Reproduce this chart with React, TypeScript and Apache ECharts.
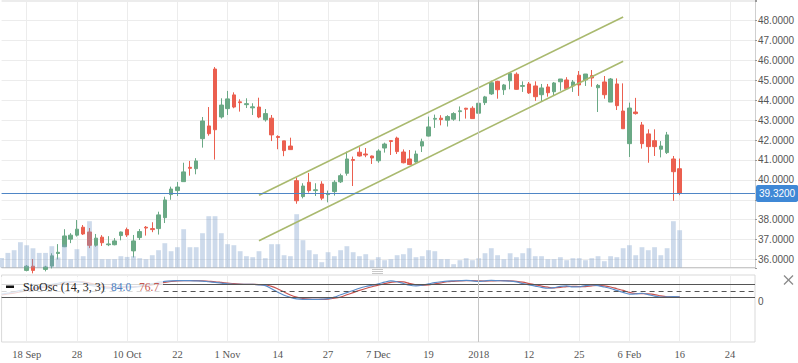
import React, { useEffect, useRef } from "react";
import * as echarts from "echarts";

// ---- data ----
const tickLabels = ["18 Sep", "28", "10 Oct", "22", "1 Nov", "14", "27", "7 Dec", "19", "2018", "12", "25", "6 Feb", "16", "24"];
const FIRST_TICK = 4;
const TICK_STEP = 8;
const SLOT_COUNT = 121;
const YEAR_SLOT = "76";
const lastPrice = 39.32;
const stochLegend = { k: "84.0", d: "76.7" };

const open = [35.30,35.20,35.35,35.25,35.45,35.66,35.45,35.50,35.67,36.30,
36.64,37.02,37.22,37.62,37.38,36.71,37.12,36.74,36.74,37.20,
37.50,36.43,37.10,37.62,37.55,37.55,38.10,39.26,39.46,39.91,
40.63,40.56,42.07,42.71,45.57,43.16,43.58,44.27,43.92,43.78,
43.62,43.66,43.02,43.10,42.18,41.96,41.70,39.96,39.16,39.88,
39.46,39.79,39.26,39.41,39.90,40.33,41.02,41.39,41.30,41.20,
40.96,41.60,41.97,42.10,41.40,41.05,40.90,41.70,42.20,43.05,
43.10,43.00,43.05,43.43,43.60,43.60,43.35,43.88,44.32,44.95,
44.53,44.98,45.31,44.70,44.82,44.72,44.28,44.67,44.43,44.93,
45.02,44.72,45.26,45.02,45.24,44.63,44.92,43.91,44.82,43.46,
41.82,43.41,42.76,42.31,41.97,41.54,41.37,41.05,40.56];

const close = [35.20,35.35,35.25,35.45,35.66,35.45,35.50,35.62,36.18,36.36,
37.18,37.22,37.52,37.28,36.71,37.07,36.84,36.78,36.93,37.38,
37.23,36.93,37.40,37.58,37.50,38.24,38.99,39.54,39.64,40.40,
40.58,40.95,42.96,42.32,42.52,43.76,44.07,43.66,43.88,43.83,
43.67,43.16,43.33,42.26,42.13,41.47,41.52,38.95,39.69,39.46,
39.50,39.08,39.30,39.88,40.21,41.05,40.98,41.20,41.25,41.10,
41.45,41.80,41.93,41.42,40.86,40.77,41.30,41.92,42.66,43.09,
43.03,43.18,43.33,43.47,43.55,43.08,43.85,44.17,44.88,44.53,
44.77,45.36,44.55,44.74,44.37,44.18,44.62,44.38,44.87,45.07,
44.58,44.92,44.77,45.32,45.12,44.75,44.28,45.07,43.73,42.57,
43.61,43.33,41.82,41.67,41.67,41.70,42.26,40.41,39.32];

const low = [35.10,35.05,35.15,35.10,35.40,35.30,35.30,35.40,35.55,36.00,
36.62,36.82,37.15,37.23,36.57,36.64,36.68,36.67,36.71,36.96,
37.13,36.10,36.98,37.20,37.37,37.25,37.83,39.00,39.19,39.91,
40.21,40.28,41.62,42.22,41.02,43.08,43.26,43.60,43.43,43.61,
43.26,43.10,42.93,41.95,41.54,41.19,41.52,38.80,39.07,39.36,
39.19,38.98,38.87,39.21,39.84,40.21,39.69,41.17,41.14,40.80,
40.86,41.37,41.25,41.30,40.83,40.74,40.86,41.40,42.18,42.61,
42.74,42.68,42.97,42.95,43.08,43.08,43.30,43.76,44.27,44.08,
44.27,44.55,44.53,44.42,44.32,43.97,43.95,44.18,44.22,44.48,
44.55,44.42,44.22,44.72,44.68,43.41,44.08,43.91,43.51,42.57,
41.15,43.28,41.57,40.86,41.20,41.13,41.30,38.95,39.23];

const high = [35.50,35.45,35.50,35.55,35.72,36.02,35.56,35.68,36.31,36.77,
37.52,37.32,37.98,37.73,37.58,37.28,37.22,37.17,37.07,37.40,
37.60,37.23,37.53,37.68,37.87,38.40,39.15,39.66,39.89,40.86,
40.95,41.09,43.16,43.66,45.67,44.10,44.47,44.40,44.05,44.10,
43.85,44.13,43.56,43.26,42.24,41.96,42.12,40.13,39.83,40.35,
39.83,39.93,39.46,39.98,40.31,41.42,41.17,41.64,41.60,41.22,
41.54,41.87,41.99,42.17,41.53,41.50,41.47,42.07,43.18,43.28,
43.25,43.25,43.40,43.69,43.62,43.70,43.95,44.22,44.98,44.98,
44.82,45.40,45.40,44.95,44.92,44.95,44.82,44.82,44.92,45.07,
45.16,45.02,45.47,45.32,45.52,44.82,45.22,45.12,45.10,44.85,
43.88,44.12,42.91,42.54,42.54,41.95,42.41,41.20,41.07];

const volume = [9.6,14.6,17.3,25.3,22.3,19.3,14.6,14.6,21.3,10,
23,8.3,18.3,11.3,46.3,22,8.3,8.3,8.3,11.3,
10.6,11.3,9.3,8.3,12.3,17.3,24.3,16.3,20.3,38.3,
20.3,20.3,34.3,51.3,51.3,34.3,23.3,22.3,16.3,11.3,
10.3,16.3,9.3,23.3,23.3,12.3,11.3,53.3,27.3,17.3,
13.3,5.3,15.3,11.3,17.3,21.3,15.3,11.3,13.3,7.3,
10.3,7.3,8.3,12.3,13.3,19.3,10.3,11.3,17.3,16.3,
8.3,8.3,3.3,7.3,9.3,7.3,9.3,14.3,19.3,12.3,
8.3,14.3,10.3,14.3,19.3,11.3,11.3,8.3,8.3,10.3,
7.3,9.3,9.3,7.3,9.3,11.3,6.3,11.3,10.3,19.3,
22.3,12.3,20.3,17.3,20.3,12.3,19.3,46.3,37.3];

const stochK = [35,40,45,52,58,62,68,74,80,85,
90,92,93,88,76,72,66,62,63,70,
71,66,72,78,83,90,94,96,97,97,
97,96,95,92,89,86,82,80,80,80,
80,78,74,60,44,30,20,13,11,11,
11,12,14,21,32,42,52,62,70,76,
82,90,96,92,84,76,73,76,82,88,
92,95,96,97,98,96,94,96,98,97,
96,95,91,84,78,72,66,62,65,71,
73,68,69,74,77,74,68,61,52,43,
35,36,39,33,26,21,22,24,22];

const stochD = [32,36,40,45,51,57,62,68,74,80,
85,89,92,91,86,79,71,67,64,65,
68,69,70,72,77,84,89,93,96,97,
97,97,96,94,92,89,86,83,81,80,
80,79,77,71,59,45,31,21,15,12,
11,11,12,16,22,32,42,52,61,69,
76,83,89,93,91,84,78,75,77,82,
87,92,94,96,97,97,96,95,96,97,
97,96,94,90,84,78,72,67,64,66,
70,71,70,70,73,75,73,68,60,52,
43,38,37,36,33,27,23,22,22];

const stochLevels = [80, 50, 20];

const channelUpper = [["41", 39.23], ["99", 48.19]];
const channelLower = [["41", 36.94], ["99", 45.96]];

// ---- chart ----
const categories = Array.from({ length: SLOT_COUNT }, (_, i) => String(i));
const isTick = (i: number) => i >= FIRST_TICK && (i - FIRST_TICK) % TICK_STEP === 0;

export default function App() {
  const ref = useRef<HTMLDivElement>(null);
  useEffect(() => {
    if (!ref.current) return;
    const chart = echarts.init(ref.current, undefined, { renderer: "svg" });
    const candleData = open.map((o, i) => [o, close[i], low[i], high[i]]);
    const up = "#6aa985";
    const down = "#eb5f4f";
    const gridBase = { left: 1.58, right: 43, outerBoundsMode: "none" } as any;
    const splitColor = "#ececec";
    const channelStyle = { color: "#a9b96e", width: 1.6 };
    const option: any = {
      animation: false,
      textStyle: { fontFamily: "Liberation Sans" },
      grid: [
        { ...gridBase, top: 0, height: 268 },
        { ...gridBase, top: 207.5, height: 60 },
        { ...gridBase, top: 275, height: 67, show: true, borderColor: "#d9d9d9", borderWidth: 1 },
      ],
      xAxis: [
        {
          gridIndex: 0, type: "category", data: categories, boundaryGap: false,
          axisLine: { show: false }, axisTick: { show: false }, axisLabel: { show: false },
          splitLine: { show: true, interval: (i: number) => isTick(i), lineStyle: { color: splitColor } },
        },
        {
          gridIndex: 1, type: "category", data: categories, boundaryGap: false,
          axisLine: { show: true, lineStyle: { color: "#c9c9c9" } }, axisTick: { show: false },
          axisLabel: { show: false }, splitLine: { show: false },
        },
        {
          gridIndex: 2, type: "category", data: categories, boundaryGap: false,
          axisLine: { show: false }, axisTick: { show: false },
          axisLabel: {
            show: true, interval: (i: number) => isTick(i),
            formatter: (v: string) => {
              const i = Number(v);
              return isTick(i) ? tickLabels[(i - FIRST_TICK) / TICK_STEP] ?? "" : "";
            },
            color: "#555", fontFamily: "Liberation Serif", fontSize: 10.5, margin: 7,
          },
          splitLine: { show: true, interval: (i: number) => isTick(i), lineStyle: { color: splitColor } },
        },
      ],
      yAxis: [
        {
          gridIndex: 0, type: "value", position: "right", scale: true,
          min: 35.57, max: 49.04, splitNumber: 13, minInterval: 1, maxInterval: 1,
          axisLine: { show: true, lineStyle: { color: "#cfcfcf" } },
          axisTick: { show: true, length: 2, lineStyle: { color: "#999" } },
          axisLabel: {
            color: "#555", fontSize: 10, margin: 3,
            formatter: (v: number) =>
              Math.abs(v - Math.round(v)) < 1e-6 && v <= 48.5 && Math.abs(v - lastPrice) > 0.5 ? v.toFixed(4) : "",
          },
          splitLine: { show: true, lineStyle: { color: splitColor } },
        },
        { gridIndex: 1, type: "value", min: 0, max: 60, show: false },
        {
          gridIndex: 2, type: "value", position: "right", min: -185, max: 123,
          axisLine: { show: false }, axisTick: { show: false }, splitLine: { show: false },
          axisLabel: { color: "#555", fontSize: 10, margin: 3, formatter: (v: number) => (v === 0 ? "0" : "") },
        },
      ],
      series: [
        {
          type: "candlestick", xAxisIndex: 0, yAxisIndex: 0, z: 2,
          data: candleData, barWidth: 4,
          itemStyle: { color: up, color0: down, borderColor: up, borderColor0: down, borderWidth: 1 },
          markLine: {
            silent: true, symbol: ["none", "none"], animation: false,
            data: [
              { xAxis: YEAR_SLOT, lineStyle: { color: "#c6c6c6", width: 1, type: "solid" }, label: { show: false } },
              {
                yAxis: lastPrice, lineStyle: { color: "#4f86c6", width: 1, type: "solid" },
                label: {
                  show: true, position: "end", distance: 1, formatter: lastPrice.toFixed(4),
                  color: "#fff", backgroundColor: "#3f88d6", padding: [4, 3, 3, 3], borderRadius: 2, fontSize: 10,
                },
              },
            ],
          },
        },
        {
          type: "bar", xAxisIndex: 1, yAxisIndex: 1, z: 3, data: volume, barWidth: 4.8,
          itemStyle: { color: "rgba(124,157,203,0.38)" },
        },
        {
          type: "line", xAxisIndex: 0, yAxisIndex: 0, z: 4, data: channelUpper, showSymbol: false,
          lineStyle: channelStyle,
        },
        {
          type: "line", xAxisIndex: 0, yAxisIndex: 0, z: 4, data: channelLower, showSymbol: false,
          lineStyle: channelStyle,
        },
        {
          type: "line", xAxisIndex: 2, yAxisIndex: 2, data: stochD, showSymbol: false, smooth: 0.3,
          lineStyle: { color: "#c9534f", width: 1.2 },
        },
        {
          type: "line", xAxisIndex: 2, yAxisIndex: 2, data: stochK, showSymbol: false, smooth: 0.3,
          lineStyle: { color: "#5b8cc9", width: 1.2 },
          markLine: {
            silent: true, symbol: ["none", "none"], animation: false, label: { show: false },
            data: [
              { yAxis: stochLevels[0], lineStyle: { color: "#555", width: 1, type: "solid" } },
              { yAxis: stochLevels[1], lineStyle: { color: "#555", width: 1, type: [5, 4] } },
              { yAxis: stochLevels[2], lineStyle: { color: "#555", width: 1, type: "solid" } },
              { xAxis: YEAR_SLOT, lineStyle: { color: "#c6c6c6", width: 1, type: "solid" } },
            ],
          },
        },
      ],
      graphic: [
        { type: "rect", z: 100, shape: { x: 0, y: 277, width: 163, height: 19 }, style: { fill: "rgba(255,255,255,0.78)" } },
        { type: "rect", z: 101, shape: { x: 6, y: 285.5, width: 8, height: 2.5 }, style: { fill: "#111" } },
        { type: "text", z: 101, x: 23, y: 287, style: { text: "StoOsc (14, 3, 3)", fill: "#222", font: '12px "Liberation Serif"', verticalAlign: "middle" } },
        { type: "text", z: 101, x: 111, y: 287, style: { text: stochLegend.k, fill: "#4d7fc2", font: '11.5px "Liberation Serif"', verticalAlign: "middle" } },
        { type: "text", z: 101, x: 139, y: 287, style: { text: stochLegend.d, fill: "#c65650", font: '11.5px "Liberation Serif"', verticalAlign: "middle" } },
        { type: "line", z: 101, shape: { x1: 372, y1: 269.5, x2: 383, y2: 269.5 }, style: { stroke: "#c8c8c8", lineWidth: 1 } },
        { type: "line", z: 101, shape: { x1: 372, y1: 271.5, x2: 383, y2: 271.5 }, style: { stroke: "#c8c8c8", lineWidth: 1 } },
        { type: "line", z: 101, shape: { x1: 372, y1: 273.5, x2: 383, y2: 273.5 }, style: { stroke: "#c8c8c8", lineWidth: 1 } },
        { type: "line", z: 101, shape: { x1: 784, y1: 275.5, x2: 793, y2: 284.5 }, style: { stroke: "#8a8a8a", lineWidth: 1.2 } },
        { type: "line", z: 101, shape: { x1: 793, y1: 275.5, x2: 784, y2: 284.5 }, style: { stroke: "#8a8a8a", lineWidth: 1.2 } },
      ],
    };
    chart.setOption(option);
    return () => chart.dispose();
  }, []);
  return <div ref={ref} style={{ width: 798, height: 363, position: "absolute", left: 0, top: 0 }} />;
}
